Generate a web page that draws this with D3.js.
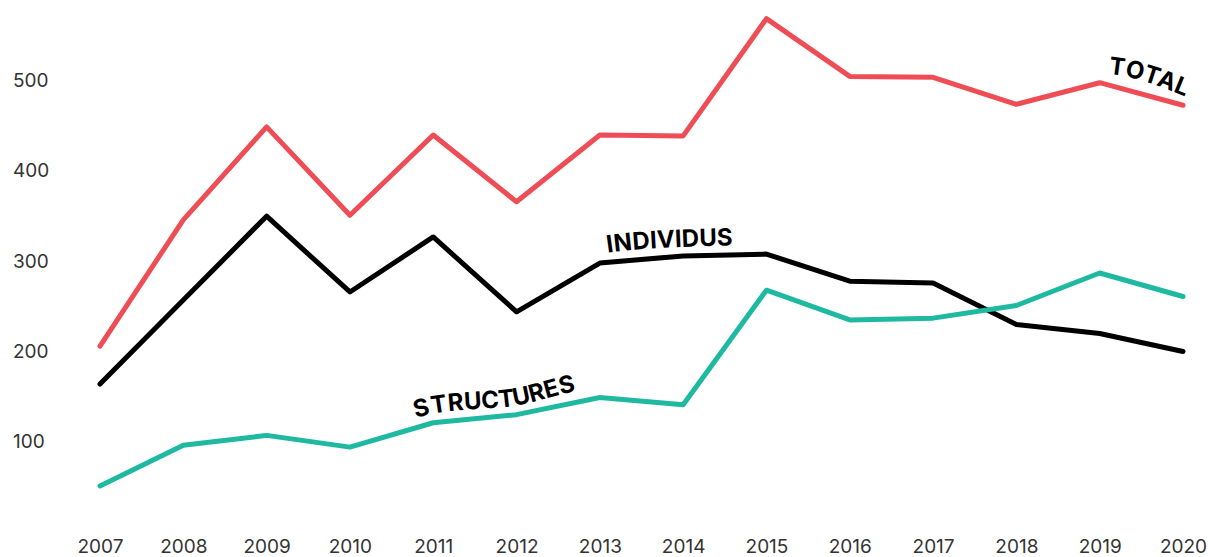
<!DOCTYPE html>
<html>
<head>
<meta charset="utf-8">
<script src="https://cdn.jsdelivr.net/npm/d3@7"></script>
<style>
  body { margin: 0; background: #fff; }
  svg { display: block; }
  .tick text { font-family: Inter, "Noto Sans", sans-serif; font-size: 19px; fill: #333; }
  .lab { font-family: Inter, Roboto, sans-serif; font-size: 24px; font-weight: 700; fill: #000; }
</style>
</head>
<body>
<div id="chart"></div>
<script>
// data
var years = [2007, 2008, 2009, 2010, 2011, 2012, 2013, 2014, 2015, 2016, 2017, 2018, 2019, 2020];
var total = [205, 345, 448, 350, 439, 365, 439, 438, 568, 504, 503, 473, 497, 472];
var individus = [163, 256, 349, 265, 326, 243, 297, 305, 307, 277, 275, 229, 219, 199];
var structures = [50, 95, 106, 93, 120, 129, 148, 140, 267, 234, 236, 250, 286, 260];
var yTicks = [100, 200, 300, 400, 500];

var width = 1208, height = 557;

var svg = d3.select("#chart")
    .append("svg")
        .attr("width", width)
        .attr("height", height);

var x = d3.scaleLinear()
    .domain([2007, 2020])
    .range([100, 1183]);

var y = d3.scaleLinear()
    .domain([0, 500])
    .range([531, 80]);

// Y axis, labels left aligned
var yAxis = svg.append("g")
    .attr("transform", "translate(13,0)")
    .call(d3.axisLeft(y).tickValues(yTicks).tickSize(0).tickPadding(0));
yAxis.select(".domain").remove();
yAxis.selectAll("text").attr("text-anchor", "start").attr("dy", "0.35em");

// X axis
var xAxis = svg.append("g")
    .attr("transform", "translate(0,536)")
    .call(d3.axisBottom(x).tickValues(years).tickFormat(d3.format("d")).tickSize(0).tickPadding(0));
xAxis.select(".domain").remove();
xAxis.selectAll("text").attr("dy", "0.9em");

var series = [
    {key: "total", name: "TOTAL", values: total, color: "#ef4d55", from: 1106},
    {key: "individus", name: "INDIVIDUS", values: individus, color: "#000000", from: 608},
    {key: "structures", name: "STRUCTURES", values: structures, color: "#1fb9a1", from: 418}
];

var line = d3.line()
    .x(function(d) { return x(d[0]); })
    .y(function(d) { return y(d[1]); });

// smoothed copy of each line, only used to carry the label
var labelLine = d3.line()
    .curve(d3.curveMonotoneX)
    .x(function(d) { return x(d[0]); })
    .y(function(d) { return y(d[1]); });

series.forEach(function(s) {
    var pts = years.map(function(yr, i) { return [yr, s.values[i]]; });
    svg.append("path")
        .attr("d", line(pts))
        .attr("fill", "none")
        .attr("stroke", s.color)
        .attr("stroke-width", 5)
        .attr("stroke-linejoin", "round")
        .attr("stroke-linecap", "round");

    var guide = svg.append("path")
        .attr("id", "guide-" + s.key)
        .attr("d", labelLine(pts))
        .attr("fill", "none")
        .attr("stroke", "none");

    // walk along the guide until we reach the wanted x
    var node = guide.node(), L = node.getTotalLength(), off = 0;
    while (off < L && node.getPointAtLength(off).x < s.from) off += 1;

    svg.append("text")
        .attr("class", "lab")
        .attr("dy", -9)
        .append("textPath")
            .attr("href", "#guide-" + s.key)
            .attr("startOffset", off)
            .text(s.name);
});
</script>
</body>
</html>
